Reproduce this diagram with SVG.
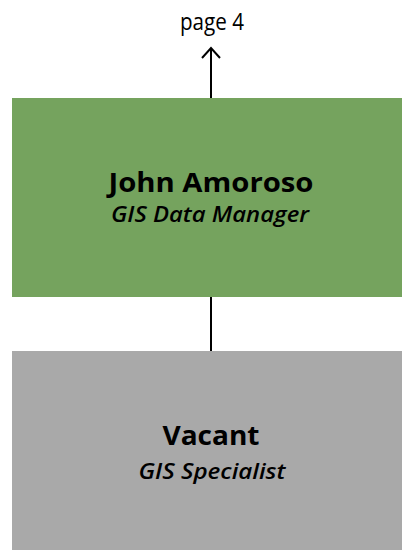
<svg xmlns="http://www.w3.org/2000/svg" width="402" height="550" viewBox="0 0 402 550">
<style>
.name{font-family:"Open Sans","Liberation Sans",sans-serif;font-weight:bold;font-size:26px;fill:#000;text-anchor:middle}
.title{font-family:"Open Sans","Liberation Sans",sans-serif;font-style:italic;font-weight:600;font-size:22px;fill:#000;text-anchor:middle}
.lbl{font-family:"Liberation Sans Narrow","Open Sans","Liberation Sans",sans-serif;font-size:23px;fill:#000;text-anchor:middle}
.conn{stroke:#000;stroke-width:2;fill:none}
</style>
<rect width="402" height="550" fill="#fff"/>
<g id="connectors">
<line class="conn" x1="211" y1="98" x2="211" y2="49"/>
<polyline class="conn" points="202,58 211,48 220,58"/>
<line class="conn" x1="211" y1="297" x2="211" y2="351"/>
</g>
<g id="page4">
<text class="lbl" x="212" y="30" textLength="64" lengthAdjust="spacingAndGlyphs">page 4</text>
</g>
<g id="john">
<rect x="12" y="98" width="390" height="199" fill="#75A35E"/>
<text class="name" x="211" y="192" textLength="205" lengthAdjust="spacingAndGlyphs">John Amoroso</text>
<text class="title" x="210" y="222" textLength="198" lengthAdjust="spacingAndGlyphs">GIS Data Manager</text>
</g>
<g id="vacant">
<rect x="12" y="351" width="390" height="199" fill="#A9A9A9"/>
<text class="name" x="211" y="444.5" textLength="97" lengthAdjust="spacingAndGlyphs">Vacant</text>
<text class="title" x="212" y="478.5" textLength="147" lengthAdjust="spacingAndGlyphs">GIS Specialist</text>
</g>
</svg>
